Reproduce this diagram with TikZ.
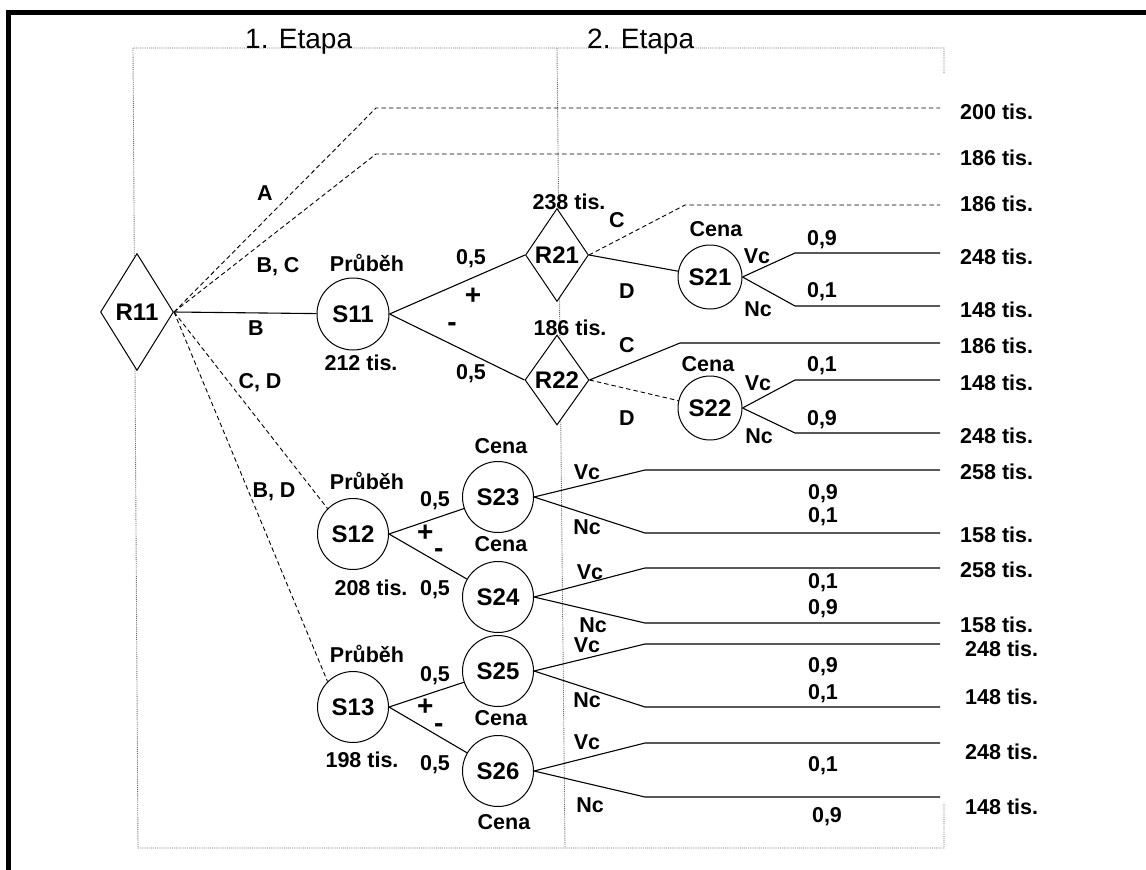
\documentclass[tikz,border=0pt]{standalone}
\usepackage{fontspec}
\setmainfont{Liberation Sans}
\usetikzlibrary{shapes.geometric}
\begin{document}
\begin{tikzpicture}[x=1pt,y=-1pt,
  dia/.style={diamond,draw,fill=white,inner sep=0pt,line width=1pt,font=\fontsize{24}{28}\selectfont\bfseries},
  cir/.style={circle,draw,fill=white,inner sep=0pt,line width=1pt,minimum size=71pt,font=\fontsize{24}{28}\selectfont\bfseries},
  lab/.style={inner sep=0pt,font=\fontsize{21.5}{24}\selectfont\bfseries,text height=15.4pt,text depth=0pt},
  plus/.style={inner sep=0pt,font=\fontsize{28}{30}\selectfont\bfseries,text height=19pt,text depth=0pt},
  minus/.style={inner sep=0pt,font=\fontsize{28}{30}\selectfont\bfseries,text height=10pt,text depth=0pt},
  pm/.style={inner sep=0pt,anchor=base west,font=\fontsize{28}{30}\selectfont\bfseries},
  val/.style={lab,anchor=west},
  ttl/.style={anchor=base west,inner sep=0pt,font=\fontsize{28}{32}\selectfont},
  ln/.style={line width=1.1pt},
  dsh/.style={line width=0.9pt,dash pattern=on 4.5pt off 3pt},
  grd/.style={black!60,line width=0.9pt,densely dotted},
]
\useasboundingbox (0,0) rectangle (1146,870);
% frame
\draw[line width=5pt] (8.5,870) -- (8.5,12.5) -- (1146,12.5);
% stage grid
\draw[grd] (944,73) -- (944,48) -- (133,48) -- (138,848) -- (944,848) -- (944,803);
\draw[grd] (557,48) -- (565,848);
\node[ttl] (et1) at (245,48) {1. Etapa};
\node[ttl] (et2) at (587,48) {2. Etapa};

% nodes
\node[dia,minimum width=73pt,minimum height=117pt] (R11) at (137,312) {R11};
\node[dia,minimum width=63pt,minimum height=93pt] (R21) at (557,255) {R21};
\node[dia,minimum width=64pt,minimum height=90pt] (R22) at (557,380) {R22};
\node[cir,minimum size=72pt] (S11) at (353,314) {S11};
\node[cir,minimum size=64pt] (S21) at (710,277) {S21};
\node[cir,minimum size=64pt] (S22) at (710,408) {S22};
\node[cir] (S12) at (353,534) {S12};
\node[cir] (S13) at (353,707) {S13};
\node[cir] (S23) at (498,497) {S23};
\node[cir] (S24) at (498,597) {S24};
\node[cir] (S25) at (498,671) {S25};
\node[cir] (S26) at (498,771) {S26};

% free ends
\coordinate (a1) at (376,108); \coordinate (a2) at (940,108);
\coordinate (b1) at (376,154); \coordinate (b2) at (940,154);
\coordinate (c1) at (685,205); \coordinate (c2) at (940,205);
\coordinate (d1) at (795,253); \coordinate (d2) at (940,253);
\coordinate (d3) at (795,306); \coordinate (d4) at (940,306);
\coordinate (f1) at (680,343); \coordinate (f2) at (940,343);
\coordinate (g1) at (795,380); \coordinate (g2) at (940,380);
\coordinate (g3) at (795,433); \coordinate (g4) at (940,433);
\coordinate (h1) at (645,470); \coordinate (h2) at (940,470);
\coordinate (h3) at (645,533); \coordinate (h4) at (940,533);
\coordinate (i1) at (645,568); \coordinate (i2) at (940,568);
\coordinate (i3) at (645,623); \coordinate (i4) at (940,623);
\coordinate (j1) at (645,644); \coordinate (j2) at (940,644);
\coordinate (j3) at (645,707); \coordinate (j4) at (940,707);
\coordinate (k1) at (645,743); \coordinate (k2) at (940,743);
\coordinate (k3) at (645,797); \coordinate (k4) at (940,797);

% connectors
\draw[dsh] (R11.east) -- (a1) -- (a2);
\draw[dsh] (R11.east) -- (b1) -- (b2);
\draw[ln] (R11.east) -- (S11);
\draw[dsh] (R11.east) -- (S12.north west);
\draw[dsh] (R11.east) -- (S13.north west);
\draw[ln] (S11.east) -- (R21.west);
\draw[ln] (S11.east) -- (R22.west);
\draw[dsh] (R21.east) -- (c1) -- (c2);
\draw[ln] (R21.east) -- (S21);
\draw[ln] (S21.east) -- (d1) -- (d2);
\draw[ln] (S21.east) -- (d3) -- (d4);
\draw[ln] (R22.east) -- (f1) -- (f2);
\draw[dsh] (R22.east) -- (S22);
\draw[ln] (S22.east) -- (g1) -- (g2);
\draw[ln] (S22.east) -- (g3) -- (g4);
\draw[ln] (S12.east) -- (S23);
\draw[ln] (S12.east) -- (S24);
\draw[ln] (S23.east) -- (h1) -- (h2);
\draw[ln] (S23.east) -- (h3) -- (h4);
\draw[ln] (S24.east) -- (i1) -- (i2);
\draw[ln] (S24.east) -- (i3) -- (i4);
\draw[ln] (S13.east) -- (S25);
\draw[ln] (S13.east) -- (S26);
\draw[ln] (S25.east) -- (j1) -- (j2);
\draw[ln] (S25.east) -- (j3) -- (j4);
\draw[ln] (S26.east) -- (k1) -- (k2);
\draw[ln] (S26.east) -- (k3) -- (k4);

% branch labels stage 1
\node[lab] (lA) at (265,193) {A};
\node[lab] (lBC) at (278,265) {B, C};
\node[lab] (lB) at (256,328) {B};
\node[lab] (lCD) at (260,381) {C, D};
\node[lab] (lBD) at (274,490) {B, D};
\node[lab] (p11) at (367,264) {Průběh};
\node[lab] (v11) at (361,363) {212 tis.};
\node[lab] (q1) at (471,257) {0,5};
\node[plus] (pl1) at (473,295) {+};
\node[minus] (mi1) at (452,326) {-};
\node[lab] (q2) at (471,372) {0,5};
\node[lab] (v21) at (569,202) {238 tis.};
\node[lab] (lC1) at (617,220) {C};
\node[lab] (lD1) at (627,291) {D};
\node[lab] (v22) at (570,328) {186 tis.};
\node[lab] (lC2) at (627,345) {C};
\node[lab] (lD2) at (627,418) {D};
% S21 / S22
\node[lab] (c21) at (716,229) {Cena};
\node[lab] (vc21) at (757,256) {Vc};
\node[lab] (nc21) at (758,309) {Nc};
\node[lab] (q21a) at (822,238) {0,9};
\node[lab] (q21b) at (822,290) {0,1};
\node[lab] (c22) at (708,364) {Cena};
\node[lab] (vc22) at (758,383) {Vc};
\node[lab] (nc22) at (759,436) {Nc};
\node[lab] (q22a) at (822,364) {0,1};
\node[lab] (q22b) at (822,418) {0,9};
% S12 group
\node[lab] (p12) at (367,482) {Průběh};
\node[lab] (v12) at (371,588) {208 tis.};
\node[lab] (q3) at (435,499) {0,5};
\node[pm] (pm2) at (417,541) {+\kern0.6pt\raisebox{-16.5pt}{-}};
\node[lab] (q4) at (435,588) {0,5};
\node[lab] (c23) at (501,446) {Cena};
\node[lab] (c24) at (501,544) {Cena};
\node[lab] (vc23) at (587,472) {Vc};
\node[lab] (nc23) at (587,527) {Nc};
\node[lab] (q23a) at (823,492) {0,9};
\node[lab] (q23b) at (823,515) {0,1};
\node[lab] (vc24) at (590,572) {Vc};
\node[lab] (nc24) at (593,625) {Nc};
\node[lab] (q24a) at (823,581) {0,1};
\node[lab] (q24b) at (823,607) {0,9};
% S13 group
\node[lab] (p13) at (367,655) {Průběh};
\node[lab] (v13) at (362,760) {198 tis.};
\node[lab] (q5) at (435,674) {0,5};
\node[pm] (pm3) at (417,715) {+\kern0.6pt\raisebox{-17.5pt}{-}};
\node[lab] (q6) at (435,763) {0,5};
\node[lab] (c25) at (501,718) {Cena};
\node[lab] (c26) at (504,822) {Cena};
\node[lab] (vc25) at (587,645) {Vc};
\node[lab] (nc25) at (587,700) {Nc};
\node[lab] (q25a) at (823,665) {0,9};
\node[lab] (q25b) at (823,692) {0,1};
\node[lab] (vc26) at (587,742) {Vc};
\node[lab] (nc26) at (590,805) {Nc};
\node[lab] (q26a) at (823,764) {0,1};
\node[lab] (q26b) at (827,815) {0,9};

% outcome values
\node[val] (o1) at (960,112) {200 tis.};
\node[val] (o2) at (960,158) {186 tis.};
\node[val] (o3) at (960,204) {186 tis.};
\node[val] (o4) at (960,257) {248 tis.};
\node[val] (o5) at (960,310) {148 tis.};
\node[val] (o6) at (960,346) {186 tis.};
\node[val] (o7) at (960,383) {148 tis.};
\node[val] (o8) at (960,436) {248 tis.};
\node[val] (o9) at (960,472) {258 tis.};
\node[val] (o10) at (960,535) {158 tis.};
\node[val] (o11) at (960,570) {258 tis.};
\node[val] (o12) at (960,625) {158 tis.};
\node[val] (o13) at (965,649) {248 tis.};
\node[val] (o14) at (965,697) {148 tis.};
\node[val] (o15) at (965,752) {248 tis.};
\node[val] (o16) at (965,807) {148 tis.};
\end{tikzpicture}
\end{document}
